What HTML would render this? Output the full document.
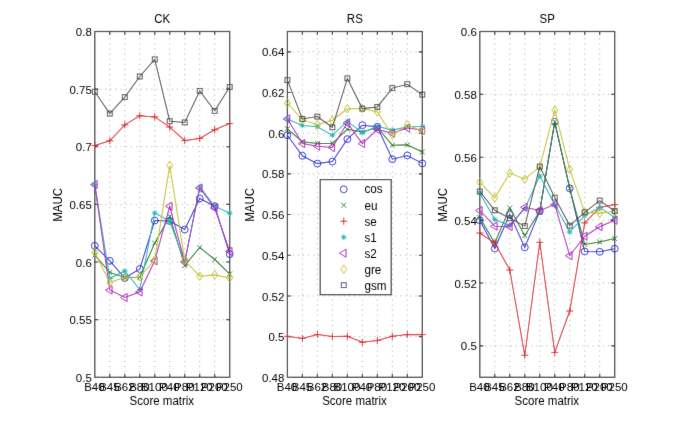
<!DOCTYPE html><html><head><meta charset="utf-8"><style>html,body{margin:0;padding:0;background:#fff;}svg{display:block;}text{font-family:"Liberation Sans", sans-serif;font-size:11.5px;fill:#000;}</style></head><body>
<svg width="685" height="425" viewBox="0 0 685 425">
<defs><filter id="bl" x="0" y="0" width="685" height="425" filterUnits="userSpaceOnUse"><feConvolveMatrix order="3" kernelMatrix="0.00524 0.06192 0.00524 0.06192 0.73137 0.06192 0.00524 0.06192 0.00524" edgeMode="duplicate" preserveAlpha="true"/></filter><filter id="bt" x="0" y="0" width="685" height="425" filterUnits="userSpaceOnUse"><feConvolveMatrix order="3" kernelMatrix="0.00524 0.06192 0.00524 0.06192 0.73137 0.06192 0.00524 0.06192 0.00524" edgeMode="none"/></filter></defs>
<g filter="url(#bl)">
<rect width="685" height="425" fill="#fff"/>
<g><path d="M109.79 31.50V377.30M124.78 31.50V377.30M139.77 31.50V377.30M154.76 31.50V377.30M169.74 31.50V377.30M184.73 31.50V377.30M199.72 31.50V377.30M214.71 31.50V377.30" stroke="#a8a8a8" stroke-width="1" stroke-dasharray="1 4.12" stroke-dashoffset="3.44" fill="none"/><path d="M94.80 319.67H229.70M94.80 262.03H229.70M94.80 204.40H229.70M94.80 146.77H229.70M94.80 89.13H229.70" stroke="#a8a8a8" stroke-width="1" stroke-dasharray="1 4.12" stroke-dashoffset="4.92" fill="none"/><path d="M109.79 377.30v-3.5M109.79 31.50v3.5M124.78 377.30v-3.5M124.78 31.50v3.5M139.77 377.30v-3.5M139.77 31.50v3.5M154.76 377.30v-3.5M154.76 31.50v3.5M169.74 377.30v-3.5M169.74 31.50v3.5M184.73 377.30v-3.5M184.73 31.50v3.5M199.72 377.30v-3.5M199.72 31.50v3.5M214.71 377.30v-3.5M214.71 31.50v3.5M94.80 319.67h3.5M229.70 319.67h-3.5M94.80 262.03h3.5M229.70 262.03h-3.5M94.80 204.40h3.5M229.70 204.40h-3.5M94.80 146.77h3.5M229.70 146.77h-3.5M94.80 89.13h3.5M229.70 89.13h-3.5" stroke="#262626" stroke-width="1.1" fill="none"/><rect x="94.80" y="31.50" width="134.90" height="345.80" fill="none" stroke="#383838" stroke-width="1.25"/><polyline points="94.80,245.80 109.79,260.80 124.78,278.00 139.77,269.00 154.76,220.50 169.74,221.00 184.73,229.50 199.72,198.50 214.71,206.20 229.70,254.10" fill="none" stroke="#2828dc" stroke-width="1.05"/><circle cx="94.80" cy="245.80" r="3.45" fill="none" stroke="#2828dc"/><circle cx="109.79" cy="260.80" r="3.45" fill="none" stroke="#2828dc"/><circle cx="124.78" cy="278.00" r="3.45" fill="none" stroke="#2828dc"/><circle cx="139.77" cy="269.00" r="3.45" fill="none" stroke="#2828dc"/><circle cx="154.76" cy="220.50" r="3.45" fill="none" stroke="#2828dc"/><circle cx="169.74" cy="221.00" r="3.45" fill="none" stroke="#2828dc"/><circle cx="184.73" cy="229.50" r="3.45" fill="none" stroke="#2828dc"/><circle cx="199.72" cy="198.50" r="3.45" fill="none" stroke="#2828dc"/><circle cx="214.71" cy="206.20" r="3.45" fill="none" stroke="#2828dc"/><circle cx="229.70" cy="254.10" r="3.45" fill="none" stroke="#2828dc"/><polyline points="94.80,255.20 109.79,272.40 124.78,277.40 139.77,277.20 154.76,243.00 169.74,216.30 184.73,265.60 199.72,247.40 214.71,259.50 229.70,273.90" fill="none" stroke="#147814" stroke-width="1.05"/><path d="M92.40 252.80L97.20 257.60M92.40 257.60L97.20 252.80" stroke="#147814" fill="none"/><path d="M107.39 270.00L112.19 274.80M107.39 274.80L112.19 270.00" stroke="#147814" fill="none"/><path d="M122.38 275.00L127.18 279.80M122.38 279.80L127.18 275.00" stroke="#147814" fill="none"/><path d="M137.37 274.80L142.17 279.60M137.37 279.60L142.17 274.80" stroke="#147814" fill="none"/><path d="M152.36 240.60L157.16 245.40M152.36 245.40L157.16 240.60" stroke="#147814" fill="none"/><path d="M167.34 213.90L172.14 218.70M167.34 218.70L172.14 213.90" stroke="#147814" fill="none"/><path d="M182.33 263.20L187.13 268.00M182.33 268.00L187.13 263.20" stroke="#147814" fill="none"/><path d="M197.32 245.00L202.12 249.80M197.32 249.80L202.12 245.00" stroke="#147814" fill="none"/><path d="M212.31 257.10L217.11 261.90M212.31 261.90L217.11 257.10" stroke="#147814" fill="none"/><path d="M227.30 271.50L232.10 276.30M227.30 276.30L232.10 271.50" stroke="#147814" fill="none"/><polyline points="94.80,145.50 109.79,140.80 124.78,124.90 139.77,115.70 154.76,116.90 169.74,127.10 184.73,140.60 199.72,138.40 214.71,129.80 229.70,123.60" fill="none" stroke="#dc1e28" stroke-width="1.05"/><path d="M91.30 145.50H98.30M94.80 142.00V149.00" stroke="#dc1e28" fill="none"/><path d="M106.29 140.80H113.29M109.79 137.30V144.30" stroke="#dc1e28" fill="none"/><path d="M121.28 124.90H128.28M124.78 121.40V128.40" stroke="#dc1e28" fill="none"/><path d="M136.27 115.70H143.27M139.77 112.20V119.20" stroke="#dc1e28" fill="none"/><path d="M151.26 116.90H158.26M154.76 113.40V120.40" stroke="#dc1e28" fill="none"/><path d="M166.24 127.10H173.24M169.74 123.60V130.60" stroke="#dc1e28" fill="none"/><path d="M181.23 140.60H188.23M184.73 137.10V144.10" stroke="#dc1e28" fill="none"/><path d="M196.22 138.40H203.22M199.72 134.90V141.90" stroke="#dc1e28" fill="none"/><path d="M211.21 129.80H218.21M214.71 126.30V133.30" stroke="#dc1e28" fill="none"/><path d="M226.20 123.60H233.20M229.70 120.10V127.10" stroke="#dc1e28" fill="none"/><polyline points="94.80,184.60 109.79,278.50 124.78,271.00 139.77,289.50 154.76,213.00 169.74,221.20 184.73,262.00 199.72,186.80 214.71,206.20 229.70,213.20" fill="none" stroke="#14b4b9" stroke-width="1.05"/><path d="M92.00 184.60H97.60M94.80 181.80V187.40M92.80 182.60L96.80 186.60M92.80 186.60L96.80 182.60" stroke="#14b4b9" fill="none"/><path d="M106.99 278.50H112.59M109.79 275.70V281.30M107.79 276.50L111.79 280.50M107.79 280.50L111.79 276.50" stroke="#14b4b9" fill="none"/><path d="M121.98 271.00H127.58M124.78 268.20V273.80M122.78 269.00L126.78 273.00M122.78 273.00L126.78 269.00" stroke="#14b4b9" fill="none"/><path d="M136.97 289.50H142.57M139.77 286.70V292.30M137.77 287.50L141.77 291.50M137.77 291.50L141.77 287.50" stroke="#14b4b9" fill="none"/><path d="M151.96 213.00H157.56M154.76 210.20V215.80M152.76 211.00L156.76 215.00M152.76 215.00L156.76 211.00" stroke="#14b4b9" fill="none"/><path d="M166.94 221.20H172.54M169.74 218.40V224.00M167.74 219.20L171.74 223.20M167.74 223.20L171.74 219.20" stroke="#14b4b9" fill="none"/><path d="M181.93 262.00H187.53M184.73 259.20V264.80M182.73 260.00L186.73 264.00M182.73 264.00L186.73 260.00" stroke="#14b4b9" fill="none"/><path d="M196.92 186.80H202.52M199.72 184.00V189.60M197.72 184.80L201.72 188.80M197.72 188.80L201.72 184.80" stroke="#14b4b9" fill="none"/><path d="M211.91 206.20H217.51M214.71 203.40V209.00M212.71 204.20L216.71 208.20M212.71 208.20L216.71 204.20" stroke="#14b4b9" fill="none"/><path d="M226.90 213.20H232.50M229.70 210.40V216.00M227.70 211.20L231.70 215.20M227.70 215.20L231.70 211.20" stroke="#14b4b9" fill="none"/><polyline points="94.80,184.60 109.79,290.00 124.78,297.50 139.77,292.00 154.76,260.80 169.74,206.30 184.73,262.00 199.72,188.00 214.71,208.00 229.70,251.40" fill="none" stroke="#af1ebe" stroke-width="1.05"/><path d="M90.50 184.60L97.10 180.50L97.10 188.70Z" stroke="#af1ebe" fill="none"/><path d="M105.49 290.00L112.09 285.90L112.09 294.10Z" stroke="#af1ebe" fill="none"/><path d="M120.48 297.50L127.08 293.40L127.08 301.60Z" stroke="#af1ebe" fill="none"/><path d="M135.47 292.00L142.07 287.90L142.07 296.10Z" stroke="#af1ebe" fill="none"/><path d="M150.46 260.80L157.06 256.70L157.06 264.90Z" stroke="#af1ebe" fill="none"/><path d="M165.44 206.30L172.04 202.20L172.04 210.40Z" stroke="#af1ebe" fill="none"/><path d="M180.43 262.00L187.03 257.90L187.03 266.10Z" stroke="#af1ebe" fill="none"/><path d="M195.42 188.00L202.02 183.90L202.02 192.10Z" stroke="#af1ebe" fill="none"/><path d="M210.41 208.00L217.01 203.90L217.01 212.10Z" stroke="#af1ebe" fill="none"/><path d="M225.40 251.40L232.00 247.30L232.00 255.50Z" stroke="#af1ebe" fill="none"/><polyline points="94.80,252.50 109.79,282.50 124.78,277.20 139.77,277.00 154.76,259.80 169.74,165.60 184.73,260.30 199.72,276.20 214.71,274.90 229.70,277.90" fill="none" stroke="#c3c31e" stroke-width="1.05"/><path d="M94.80 248.30L97.80 252.50L94.80 256.70L91.80 252.50Z" stroke="#c3c31e" fill="none"/><path d="M109.79 278.30L112.79 282.50L109.79 286.70L106.79 282.50Z" stroke="#c3c31e" fill="none"/><path d="M124.78 273.00L127.78 277.20L124.78 281.40L121.78 277.20Z" stroke="#c3c31e" fill="none"/><path d="M139.77 272.80L142.77 277.00L139.77 281.20L136.77 277.00Z" stroke="#c3c31e" fill="none"/><path d="M154.76 255.60L157.76 259.80L154.76 264.00L151.76 259.80Z" stroke="#c3c31e" fill="none"/><path d="M169.74 161.40L172.74 165.60L169.74 169.80L166.74 165.60Z" stroke="#c3c31e" fill="none"/><path d="M184.73 256.10L187.73 260.30L184.73 264.50L181.73 260.30Z" stroke="#c3c31e" fill="none"/><path d="M199.72 272.00L202.72 276.20L199.72 280.40L196.72 276.20Z" stroke="#c3c31e" fill="none"/><path d="M214.71 270.70L217.71 274.90L214.71 279.10L211.71 274.90Z" stroke="#c3c31e" fill="none"/><path d="M229.70 273.70L232.70 277.90L229.70 282.10L226.70 277.90Z" stroke="#c3c31e" fill="none"/><polyline points="94.80,91.80 109.79,113.60 124.78,97.10 139.77,76.50 154.76,59.40 169.74,121.20 184.73,122.40 199.72,90.90 214.71,110.90 229.70,87.00" fill="none" stroke="#505050" stroke-width="1.05"/><rect x="92.35" y="89.35" width="4.90" height="4.90" stroke="#505050" fill="none"/><rect x="107.34" y="111.15" width="4.90" height="4.90" stroke="#505050" fill="none"/><rect x="122.33" y="94.65" width="4.90" height="4.90" stroke="#505050" fill="none"/><rect x="137.32" y="74.05" width="4.90" height="4.90" stroke="#505050" fill="none"/><rect x="152.31" y="56.95" width="4.90" height="4.90" stroke="#505050" fill="none"/><rect x="167.29" y="118.75" width="4.90" height="4.90" stroke="#505050" fill="none"/><rect x="182.28" y="119.95" width="4.90" height="4.90" stroke="#505050" fill="none"/><rect x="197.27" y="88.45" width="4.90" height="4.90" stroke="#505050" fill="none"/><rect x="212.26" y="108.45" width="4.90" height="4.90" stroke="#505050" fill="none"/><rect x="227.25" y="84.55" width="4.90" height="4.90" stroke="#505050" fill="none"/></g>
<g><path d="M302.39 31.50V377.30M317.38 31.50V377.30M332.37 31.50V377.30M347.36 31.50V377.30M362.34 31.50V377.30M377.33 31.50V377.30M392.32 31.50V377.30M407.31 31.50V377.30" stroke="#a8a8a8" stroke-width="1" stroke-dasharray="1 4.12" stroke-dashoffset="3.44" fill="none"/><path d="M287.40 336.62H422.30M287.40 295.94H422.30M287.40 255.25H422.30M287.40 214.57H422.30M287.40 173.89H422.30M287.40 133.21H422.30M287.40 92.52H422.30M287.40 51.84H422.30" stroke="#a8a8a8" stroke-width="1" stroke-dasharray="1 4.12" stroke-dashoffset="4.92" fill="none"/><path d="M302.39 377.30v-3.5M302.39 31.50v3.5M317.38 377.30v-3.5M317.38 31.50v3.5M332.37 377.30v-3.5M332.37 31.50v3.5M347.36 377.30v-3.5M347.36 31.50v3.5M362.34 377.30v-3.5M362.34 31.50v3.5M377.33 377.30v-3.5M377.33 31.50v3.5M392.32 377.30v-3.5M392.32 31.50v3.5M407.31 377.30v-3.5M407.31 31.50v3.5M287.40 336.62h3.5M422.30 336.62h-3.5M287.40 295.94h3.5M422.30 295.94h-3.5M287.40 255.25h3.5M422.30 255.25h-3.5M287.40 214.57h3.5M422.30 214.57h-3.5M287.40 173.89h3.5M422.30 173.89h-3.5M287.40 133.21h3.5M422.30 133.21h-3.5M287.40 92.52h3.5M422.30 92.52h-3.5M287.40 51.84h3.5M422.30 51.84h-3.5" stroke="#262626" stroke-width="1.1" fill="none"/><rect x="287.40" y="31.50" width="134.90" height="345.80" fill="none" stroke="#383838" stroke-width="1.25"/><polyline points="287.40,135.20 302.39,155.80 317.38,163.60 332.37,161.60 347.36,139.10 362.34,125.20 377.33,126.80 392.32,159.20 407.31,155.50 422.30,163.40" fill="none" stroke="#2828dc" stroke-width="1.05"/><circle cx="287.40" cy="135.20" r="3.45" fill="none" stroke="#2828dc"/><circle cx="302.39" cy="155.80" r="3.45" fill="none" stroke="#2828dc"/><circle cx="317.38" cy="163.60" r="3.45" fill="none" stroke="#2828dc"/><circle cx="332.37" cy="161.60" r="3.45" fill="none" stroke="#2828dc"/><circle cx="347.36" cy="139.10" r="3.45" fill="none" stroke="#2828dc"/><circle cx="362.34" cy="125.20" r="3.45" fill="none" stroke="#2828dc"/><circle cx="377.33" cy="126.80" r="3.45" fill="none" stroke="#2828dc"/><circle cx="392.32" cy="159.20" r="3.45" fill="none" stroke="#2828dc"/><circle cx="407.31" cy="155.50" r="3.45" fill="none" stroke="#2828dc"/><circle cx="422.30" cy="163.40" r="3.45" fill="none" stroke="#2828dc"/><polyline points="287.40,128.80 302.39,141.70 317.38,143.40 332.37,143.40 347.36,129.20 362.34,132.00 377.33,127.50 392.32,145.20 407.31,144.90 422.30,152.00" fill="none" stroke="#147814" stroke-width="1.05"/><path d="M285.00 126.40L289.80 131.20M285.00 131.20L289.80 126.40" stroke="#147814" fill="none"/><path d="M299.99 139.30L304.79 144.10M299.99 144.10L304.79 139.30" stroke="#147814" fill="none"/><path d="M314.98 141.00L319.78 145.80M314.98 145.80L319.78 141.00" stroke="#147814" fill="none"/><path d="M329.97 141.00L334.77 145.80M329.97 145.80L334.77 141.00" stroke="#147814" fill="none"/><path d="M344.96 126.80L349.76 131.60M344.96 131.60L349.76 126.80" stroke="#147814" fill="none"/><path d="M359.94 129.60L364.74 134.40M359.94 134.40L364.74 129.60" stroke="#147814" fill="none"/><path d="M374.93 125.10L379.73 129.90M374.93 129.90L379.73 125.10" stroke="#147814" fill="none"/><path d="M389.92 142.80L394.72 147.60M389.92 147.60L394.72 142.80" stroke="#147814" fill="none"/><path d="M404.91 142.50L409.71 147.30M404.91 147.30L409.71 142.50" stroke="#147814" fill="none"/><path d="M419.90 149.60L424.70 154.40M419.90 154.40L424.70 149.60" stroke="#147814" fill="none"/><polyline points="287.40,336.30 302.39,338.40 317.38,334.50 332.37,336.50 347.36,336.30 362.34,342.30 377.33,340.50 392.32,336.30 407.31,334.60 422.30,334.60" fill="none" stroke="#dc1e28" stroke-width="1.05"/><path d="M283.90 336.30H290.90M287.40 332.80V339.80" stroke="#dc1e28" fill="none"/><path d="M298.89 338.40H305.89M302.39 334.90V341.90" stroke="#dc1e28" fill="none"/><path d="M313.88 334.50H320.88M317.38 331.00V338.00" stroke="#dc1e28" fill="none"/><path d="M328.87 336.50H335.87M332.37 333.00V340.00" stroke="#dc1e28" fill="none"/><path d="M343.86 336.30H350.86M347.36 332.80V339.80" stroke="#dc1e28" fill="none"/><path d="M358.84 342.30H365.84M362.34 338.80V345.80" stroke="#dc1e28" fill="none"/><path d="M373.83 340.50H380.83M377.33 337.00V344.00" stroke="#dc1e28" fill="none"/><path d="M388.82 336.30H395.82M392.32 332.80V339.80" stroke="#dc1e28" fill="none"/><path d="M403.81 334.60H410.81M407.31 331.10V338.10" stroke="#dc1e28" fill="none"/><path d="M418.80 334.60H425.80M422.30 331.10V338.10" stroke="#dc1e28" fill="none"/><polyline points="287.40,118.90 302.39,125.50 317.38,126.80 332.37,135.20 347.36,121.40 362.34,132.60 377.33,126.20 392.32,130.10 407.31,126.80 422.30,126.60" fill="none" stroke="#14b4b9" stroke-width="1.05"/><path d="M284.60 118.90H290.20M287.40 116.10V121.70M285.40 116.90L289.40 120.90M285.40 120.90L289.40 116.90" stroke="#14b4b9" fill="none"/><path d="M299.59 125.50H305.19M302.39 122.70V128.30M300.39 123.50L304.39 127.50M300.39 127.50L304.39 123.50" stroke="#14b4b9" fill="none"/><path d="M314.58 126.80H320.18M317.38 124.00V129.60M315.38 124.80L319.38 128.80M315.38 128.80L319.38 124.80" stroke="#14b4b9" fill="none"/><path d="M329.57 135.20H335.17M332.37 132.40V138.00M330.37 133.20L334.37 137.20M330.37 137.20L334.37 133.20" stroke="#14b4b9" fill="none"/><path d="M344.56 121.40H350.16M347.36 118.60V124.20M345.36 119.40L349.36 123.40M345.36 123.40L349.36 119.40" stroke="#14b4b9" fill="none"/><path d="M359.54 132.60H365.14M362.34 129.80V135.40M360.34 130.60L364.34 134.60M360.34 134.60L364.34 130.60" stroke="#14b4b9" fill="none"/><path d="M374.53 126.20H380.13M377.33 123.40V129.00M375.33 124.20L379.33 128.20M375.33 128.20L379.33 124.20" stroke="#14b4b9" fill="none"/><path d="M389.52 130.10H395.12M392.32 127.30V132.90M390.32 128.10L394.32 132.10M390.32 132.10L394.32 128.10" stroke="#14b4b9" fill="none"/><path d="M404.51 126.80H410.11M407.31 124.00V129.60M405.31 124.80L409.31 128.80M405.31 128.80L409.31 124.80" stroke="#14b4b9" fill="none"/><path d="M419.50 126.60H425.10M422.30 123.80V129.40M420.30 124.60L424.30 128.60M420.30 128.60L424.30 124.60" stroke="#14b4b9" fill="none"/><polyline points="287.40,118.90 302.39,143.60 317.38,146.20 332.37,147.50 347.36,122.90 362.34,143.60 377.33,129.40 392.32,133.30 407.31,128.10 422.30,130.10" fill="none" stroke="#af1ebe" stroke-width="1.05"/><path d="M283.10 118.90L289.70 114.80L289.70 123.00Z" stroke="#af1ebe" fill="none"/><path d="M298.09 143.60L304.69 139.50L304.69 147.70Z" stroke="#af1ebe" fill="none"/><path d="M313.08 146.20L319.68 142.10L319.68 150.30Z" stroke="#af1ebe" fill="none"/><path d="M328.07 147.50L334.67 143.40L334.67 151.60Z" stroke="#af1ebe" fill="none"/><path d="M343.06 122.90L349.66 118.80L349.66 127.00Z" stroke="#af1ebe" fill="none"/><path d="M358.04 143.60L364.64 139.50L364.64 147.70Z" stroke="#af1ebe" fill="none"/><path d="M373.03 129.40L379.63 125.30L379.63 133.50Z" stroke="#af1ebe" fill="none"/><path d="M388.02 133.30L394.62 129.20L394.62 137.40Z" stroke="#af1ebe" fill="none"/><path d="M403.01 128.10L409.61 124.00L409.61 132.20Z" stroke="#af1ebe" fill="none"/><path d="M418.00 130.10L424.60 126.00L424.60 134.20Z" stroke="#af1ebe" fill="none"/><polyline points="287.40,103.00 302.39,119.80 317.38,124.80 332.37,120.20 347.36,108.80 362.34,108.60 377.33,112.00 392.32,135.20 407.31,124.50 422.30,131.40" fill="none" stroke="#c3c31e" stroke-width="1.05"/><path d="M287.40 98.80L290.40 103.00L287.40 107.20L284.40 103.00Z" stroke="#c3c31e" fill="none"/><path d="M302.39 115.60L305.39 119.80L302.39 124.00L299.39 119.80Z" stroke="#c3c31e" fill="none"/><path d="M317.38 120.60L320.38 124.80L317.38 129.00L314.38 124.80Z" stroke="#c3c31e" fill="none"/><path d="M332.37 116.00L335.37 120.20L332.37 124.40L329.37 120.20Z" stroke="#c3c31e" fill="none"/><path d="M347.36 104.60L350.36 108.80L347.36 113.00L344.36 108.80Z" stroke="#c3c31e" fill="none"/><path d="M362.34 104.40L365.34 108.60L362.34 112.80L359.34 108.60Z" stroke="#c3c31e" fill="none"/><path d="M377.33 107.80L380.33 112.00L377.33 116.20L374.33 112.00Z" stroke="#c3c31e" fill="none"/><path d="M392.32 131.00L395.32 135.20L392.32 139.40L389.32 135.20Z" stroke="#c3c31e" fill="none"/><path d="M407.31 120.30L410.31 124.50L407.31 128.70L404.31 124.50Z" stroke="#c3c31e" fill="none"/><path d="M422.30 127.20L425.30 131.40L422.30 135.60L419.30 131.40Z" stroke="#c3c31e" fill="none"/><polyline points="287.40,80.10 302.39,119.00 317.38,116.60 332.37,127.30 347.36,78.40 362.34,108.60 377.33,106.90 392.32,88.10 407.31,84.20 422.30,94.60" fill="none" stroke="#505050" stroke-width="1.05"/><rect x="284.95" y="77.65" width="4.90" height="4.90" stroke="#505050" fill="none"/><rect x="299.94" y="116.55" width="4.90" height="4.90" stroke="#505050" fill="none"/><rect x="314.93" y="114.15" width="4.90" height="4.90" stroke="#505050" fill="none"/><rect x="329.92" y="124.85" width="4.90" height="4.90" stroke="#505050" fill="none"/><rect x="344.91" y="75.95" width="4.90" height="4.90" stroke="#505050" fill="none"/><rect x="359.89" y="106.15" width="4.90" height="4.90" stroke="#505050" fill="none"/><rect x="374.88" y="104.45" width="4.90" height="4.90" stroke="#505050" fill="none"/><rect x="389.87" y="85.65" width="4.90" height="4.90" stroke="#505050" fill="none"/><rect x="404.86" y="81.75" width="4.90" height="4.90" stroke="#505050" fill="none"/><rect x="419.85" y="92.15" width="4.90" height="4.90" stroke="#505050" fill="none"/></g>
<g><path d="M494.79 31.50V377.30M509.78 31.50V377.30M524.77 31.50V377.30M539.76 31.50V377.30M554.74 31.50V377.30M569.73 31.50V377.30M584.72 31.50V377.30M599.71 31.50V377.30" stroke="#a8a8a8" stroke-width="1" stroke-dasharray="1 4.12" stroke-dashoffset="3.44" fill="none"/><path d="M479.80 345.86H614.70M479.80 282.99H614.70M479.80 220.12H614.70M479.80 157.25H614.70M479.80 94.37H614.70" stroke="#a8a8a8" stroke-width="1" stroke-dasharray="1 4.12" stroke-dashoffset="4.92" fill="none"/><path d="M494.79 377.30v-3.5M494.79 31.50v3.5M509.78 377.30v-3.5M509.78 31.50v3.5M524.77 377.30v-3.5M524.77 31.50v3.5M539.76 377.30v-3.5M539.76 31.50v3.5M554.74 377.30v-3.5M554.74 31.50v3.5M569.73 377.30v-3.5M569.73 31.50v3.5M584.72 377.30v-3.5M584.72 31.50v3.5M599.71 377.30v-3.5M599.71 31.50v3.5M479.80 345.86h3.5M614.70 345.86h-3.5M479.80 282.99h3.5M614.70 282.99h-3.5M479.80 220.12h3.5M614.70 220.12h-3.5M479.80 157.25h3.5M614.70 157.25h-3.5M479.80 94.37h3.5M614.70 94.37h-3.5" stroke="#262626" stroke-width="1.1" fill="none"/><rect x="479.80" y="31.50" width="134.90" height="345.80" fill="none" stroke="#383838" stroke-width="1.25"/><polyline points="479.80,220.30 494.79,248.50 509.78,214.40 524.77,247.40 539.76,211.20 554.74,121.80 569.73,188.40 584.72,251.50 599.71,251.80 614.70,248.70" fill="none" stroke="#2828dc" stroke-width="1.05"/><circle cx="479.80" cy="220.30" r="3.45" fill="none" stroke="#2828dc"/><circle cx="494.79" cy="248.50" r="3.45" fill="none" stroke="#2828dc"/><circle cx="509.78" cy="214.40" r="3.45" fill="none" stroke="#2828dc"/><circle cx="524.77" cy="247.40" r="3.45" fill="none" stroke="#2828dc"/><circle cx="539.76" cy="211.20" r="3.45" fill="none" stroke="#2828dc"/><circle cx="554.74" cy="121.80" r="3.45" fill="none" stroke="#2828dc"/><circle cx="569.73" cy="188.40" r="3.45" fill="none" stroke="#2828dc"/><circle cx="584.72" cy="251.50" r="3.45" fill="none" stroke="#2828dc"/><circle cx="599.71" cy="251.80" r="3.45" fill="none" stroke="#2828dc"/><circle cx="614.70" cy="248.70" r="3.45" fill="none" stroke="#2828dc"/><polyline points="479.80,217.50 494.79,243.00 509.78,207.90 524.77,235.70 539.76,211.00 554.74,121.80 569.73,188.40 584.72,244.40 599.71,242.00 614.70,238.60" fill="none" stroke="#147814" stroke-width="1.05"/><path d="M477.40 215.10L482.20 219.90M477.40 219.90L482.20 215.10" stroke="#147814" fill="none"/><path d="M492.39 240.60L497.19 245.40M492.39 245.40L497.19 240.60" stroke="#147814" fill="none"/><path d="M507.38 205.50L512.18 210.30M507.38 210.30L512.18 205.50" stroke="#147814" fill="none"/><path d="M522.37 233.30L527.17 238.10M522.37 238.10L527.17 233.30" stroke="#147814" fill="none"/><path d="M537.36 208.60L542.16 213.40M537.36 213.40L542.16 208.60" stroke="#147814" fill="none"/><path d="M552.34 119.40L557.14 124.20M552.34 124.20L557.14 119.40" stroke="#147814" fill="none"/><path d="M567.33 186.00L572.13 190.80M567.33 190.80L572.13 186.00" stroke="#147814" fill="none"/><path d="M582.32 242.00L587.12 246.80M582.32 246.80L587.12 242.00" stroke="#147814" fill="none"/><path d="M597.31 239.60L602.11 244.40M597.31 244.40L602.11 239.60" stroke="#147814" fill="none"/><path d="M612.30 236.20L617.10 241.00M612.30 241.00L617.10 236.20" stroke="#147814" fill="none"/><polyline points="479.80,233.00 494.79,243.00 509.78,270.00 524.77,355.30 539.76,242.30 554.74,352.40 569.73,311.00 584.72,222.90 599.71,207.50 614.70,204.60" fill="none" stroke="#dc1e28" stroke-width="1.05"/><path d="M476.30 233.00H483.30M479.80 229.50V236.50" stroke="#dc1e28" fill="none"/><path d="M491.29 243.00H498.29M494.79 239.50V246.50" stroke="#dc1e28" fill="none"/><path d="M506.28 270.00H513.28M509.78 266.50V273.50" stroke="#dc1e28" fill="none"/><path d="M521.27 355.30H528.27M524.77 351.80V358.80" stroke="#dc1e28" fill="none"/><path d="M536.26 242.30H543.26M539.76 238.80V245.80" stroke="#dc1e28" fill="none"/><path d="M551.24 352.40H558.24M554.74 348.90V355.90" stroke="#dc1e28" fill="none"/><path d="M566.23 311.00H573.23M569.73 307.50V314.50" stroke="#dc1e28" fill="none"/><path d="M581.22 222.90H588.22M584.72 219.40V226.40" stroke="#dc1e28" fill="none"/><path d="M596.21 207.50H603.21M599.71 204.00V211.00" stroke="#dc1e28" fill="none"/><path d="M611.20 204.60H618.20M614.70 201.10V208.10" stroke="#dc1e28" fill="none"/><polyline points="479.80,193.00 494.79,219.50 509.78,225.50 524.77,208.60 539.76,176.00 554.74,204.60 569.73,232.00 584.72,215.70 599.71,207.40 614.70,217.60" fill="none" stroke="#14b4b9" stroke-width="1.05"/><path d="M477.00 193.00H482.60M479.80 190.20V195.80M477.80 191.00L481.80 195.00M477.80 195.00L481.80 191.00" stroke="#14b4b9" fill="none"/><path d="M491.99 219.50H497.59M494.79 216.70V222.30M492.79 217.50L496.79 221.50M492.79 221.50L496.79 217.50" stroke="#14b4b9" fill="none"/><path d="M506.98 225.50H512.58M509.78 222.70V228.30M507.78 223.50L511.78 227.50M507.78 227.50L511.78 223.50" stroke="#14b4b9" fill="none"/><path d="M521.97 208.60H527.57M524.77 205.80V211.40M522.77 206.60L526.77 210.60M522.77 210.60L526.77 206.60" stroke="#14b4b9" fill="none"/><path d="M536.96 176.00H542.56M539.76 173.20V178.80M537.76 174.00L541.76 178.00M537.76 178.00L541.76 174.00" stroke="#14b4b9" fill="none"/><path d="M551.94 204.60H557.54M554.74 201.80V207.40M552.74 202.60L556.74 206.60M552.74 206.60L556.74 202.60" stroke="#14b4b9" fill="none"/><path d="M566.93 232.00H572.53M569.73 229.20V234.80M567.73 230.00L571.73 234.00M567.73 234.00L571.73 230.00" stroke="#14b4b9" fill="none"/><path d="M581.92 215.70H587.52M584.72 212.90V218.50M582.72 213.70L586.72 217.70M582.72 217.70L586.72 213.70" stroke="#14b4b9" fill="none"/><path d="M596.91 207.40H602.51M599.71 204.60V210.20M597.71 205.40L601.71 209.40M597.71 209.40L601.71 205.40" stroke="#14b4b9" fill="none"/><path d="M611.90 217.60H617.50M614.70 214.80V220.40M612.70 215.60L616.70 219.60M612.70 219.60L616.70 215.60" stroke="#14b4b9" fill="none"/><polyline points="479.80,210.50 494.79,226.20 509.78,226.70 524.77,207.30 539.76,210.50 554.74,204.60 569.73,255.70 584.72,236.20 599.71,226.80 614.70,220.20" fill="none" stroke="#af1ebe" stroke-width="1.05"/><path d="M475.50 210.50L482.10 206.40L482.10 214.60Z" stroke="#af1ebe" fill="none"/><path d="M490.49 226.20L497.09 222.10L497.09 230.30Z" stroke="#af1ebe" fill="none"/><path d="M505.48 226.70L512.08 222.60L512.08 230.80Z" stroke="#af1ebe" fill="none"/><path d="M520.47 207.30L527.07 203.20L527.07 211.40Z" stroke="#af1ebe" fill="none"/><path d="M535.46 210.50L542.06 206.40L542.06 214.60Z" stroke="#af1ebe" fill="none"/><path d="M550.44 204.60L557.04 200.50L557.04 208.70Z" stroke="#af1ebe" fill="none"/><path d="M565.43 255.70L572.03 251.60L572.03 259.80Z" stroke="#af1ebe" fill="none"/><path d="M580.42 236.20L587.02 232.10L587.02 240.30Z" stroke="#af1ebe" fill="none"/><path d="M595.41 226.80L602.01 222.70L602.01 230.90Z" stroke="#af1ebe" fill="none"/><path d="M610.40 220.20L617.00 216.10L617.00 224.30Z" stroke="#af1ebe" fill="none"/><polyline points="479.80,182.30 494.79,197.80 509.78,173.10 524.77,179.20 539.76,166.80 554.74,110.20 569.73,169.40 584.72,212.30 599.71,213.10 614.70,211.50" fill="none" stroke="#c3c31e" stroke-width="1.05"/><path d="M479.80 178.10L482.80 182.30L479.80 186.50L476.80 182.30Z" stroke="#c3c31e" fill="none"/><path d="M494.79 193.60L497.79 197.80L494.79 202.00L491.79 197.80Z" stroke="#c3c31e" fill="none"/><path d="M509.78 168.90L512.78 173.10L509.78 177.30L506.78 173.10Z" stroke="#c3c31e" fill="none"/><path d="M524.77 175.00L527.77 179.20L524.77 183.40L521.77 179.20Z" stroke="#c3c31e" fill="none"/><path d="M539.76 162.60L542.76 166.80L539.76 171.00L536.76 166.80Z" stroke="#c3c31e" fill="none"/><path d="M554.74 106.00L557.74 110.20L554.74 114.40L551.74 110.20Z" stroke="#c3c31e" fill="none"/><path d="M569.73 165.20L572.73 169.40L569.73 173.60L566.73 169.40Z" stroke="#c3c31e" fill="none"/><path d="M584.72 208.10L587.72 212.30L584.72 216.50L581.72 212.30Z" stroke="#c3c31e" fill="none"/><path d="M599.71 208.90L602.71 213.10L599.71 217.30L596.71 213.10Z" stroke="#c3c31e" fill="none"/><path d="M614.70 207.30L617.70 211.50L614.70 215.70L611.70 211.50Z" stroke="#c3c31e" fill="none"/><polyline points="479.80,191.50 494.79,210.30 509.78,218.30 524.77,226.10 539.76,166.60 554.74,197.60 569.73,225.60 584.72,212.30 599.71,200.60 614.70,211.00" fill="none" stroke="#505050" stroke-width="1.05"/><rect x="477.35" y="189.05" width="4.90" height="4.90" stroke="#505050" fill="none"/><rect x="492.34" y="207.85" width="4.90" height="4.90" stroke="#505050" fill="none"/><rect x="507.33" y="215.85" width="4.90" height="4.90" stroke="#505050" fill="none"/><rect x="522.32" y="223.65" width="4.90" height="4.90" stroke="#505050" fill="none"/><rect x="537.31" y="164.15" width="4.90" height="4.90" stroke="#505050" fill="none"/><rect x="552.29" y="195.15" width="4.90" height="4.90" stroke="#505050" fill="none"/><rect x="567.28" y="223.15" width="4.90" height="4.90" stroke="#505050" fill="none"/><rect x="582.27" y="209.85" width="4.90" height="4.90" stroke="#505050" fill="none"/><rect x="597.26" y="198.15" width="4.90" height="4.90" stroke="#505050" fill="none"/><rect x="612.25" y="208.55" width="4.90" height="4.90" stroke="#505050" fill="none"/></g>
<g><rect x="320.2" y="179.6" width="71.00" height="115.10" fill="#fff" stroke="#383838" stroke-width="1.2"/><circle cx="343.75" cy="189.30" r="3.45" fill="none" stroke="#2828dc"/><path d="M341.35 202.87L346.15 207.67M341.35 207.67L346.15 202.87" stroke="#147814" fill="none"/><path d="M340.25 221.24H347.25M343.75 217.74V224.74" stroke="#dc1e28" fill="none"/><path d="M340.95 237.21H346.55M343.75 234.41V240.01M341.75 235.21L345.75 239.21M341.75 239.21L345.75 235.21" stroke="#14b4b9" fill="none"/><path d="M339.45 253.18L346.05 249.08L346.05 257.28Z" stroke="#af1ebe" fill="none"/><path d="M343.75 264.95L346.75 269.15L343.75 273.35L340.75 269.15Z" stroke="#c3c31e" fill="none"/><rect x="341.30" y="282.67" width="4.90" height="4.90" stroke="#505050" fill="none"/></g>
</g>
<g filter="url(#bt)"><rect width="685" height="425" fill="#fff" fill-opacity="0"/><text transform="translate(91.80,381.90) scale(0.979,1)" style="font-size:11.75px" text-anchor="end">0.5</text><text transform="translate(91.80,324.27) scale(0.979,1)" style="font-size:11.75px" text-anchor="end">0.55</text><text transform="translate(91.80,266.63) scale(0.979,1)" style="font-size:11.75px" text-anchor="end">0.6</text><text transform="translate(91.80,209.00) scale(0.979,1)" style="font-size:11.75px" text-anchor="end">0.65</text><text transform="translate(91.80,151.37) scale(0.979,1)" style="font-size:11.75px" text-anchor="end">0.7</text><text transform="translate(91.80,93.73) scale(0.979,1)" style="font-size:11.75px" text-anchor="end">0.75</text><text transform="translate(91.80,36.10) scale(0.979,1)" style="font-size:11.75px" text-anchor="end">0.8</text><text transform="translate(94.40,391.10) scale(1.000,1)" style="font-size:11.5px" text-anchor="middle">B40</text><text transform="translate(109.39,391.10) scale(1.000,1)" style="font-size:11.5px" text-anchor="middle">B45</text><text transform="translate(124.38,391.10) scale(1.000,1)" style="font-size:11.5px" text-anchor="middle">B62</text><text transform="translate(139.37,391.10) scale(1.000,1)" style="font-size:11.5px" text-anchor="middle">B80</text><text transform="translate(154.36,391.10) scale(1.000,1)" style="font-size:11.5px" text-anchor="middle">B100</text><text transform="translate(169.34,391.10) scale(1.000,1)" style="font-size:11.5px" text-anchor="middle">P40</text><text transform="translate(184.33,391.10) scale(1.000,1)" style="font-size:11.5px" text-anchor="middle">P80</text><text transform="translate(199.32,391.10) scale(1.000,1)" style="font-size:11.5px" text-anchor="middle">P120</text><text transform="translate(214.31,391.10) scale(1.000,1)" style="font-size:11.5px" text-anchor="middle">P200</text><text transform="translate(229.30,391.10) scale(1.000,1)" style="font-size:11.5px" text-anchor="middle">P250</text><text transform="translate(162.25,22.60) scale(0.913,1)" style="font-size:12.6px" text-anchor="middle">CK</text><text transform="translate(161.85,404.50) scale(0.958,1)" style="font-size:12.0px" text-anchor="middle">Score matrix</text><text transform="translate(61.50,204.90) rotate(-90) scale(0.958,1)" style="font-size:12.0px" text-anchor="middle">MAUC</text><text transform="translate(284.40,381.90) scale(0.979,1)" style="font-size:11.75px" text-anchor="end">0.48</text><text transform="translate(284.40,341.22) scale(0.979,1)" style="font-size:11.75px" text-anchor="end">0.5</text><text transform="translate(284.40,300.54) scale(0.979,1)" style="font-size:11.75px" text-anchor="end">0.52</text><text transform="translate(284.40,259.85) scale(0.979,1)" style="font-size:11.75px" text-anchor="end">0.54</text><text transform="translate(284.40,219.17) scale(0.979,1)" style="font-size:11.75px" text-anchor="end">0.56</text><text transform="translate(284.40,178.49) scale(0.979,1)" style="font-size:11.75px" text-anchor="end">0.58</text><text transform="translate(284.40,137.81) scale(0.979,1)" style="font-size:11.75px" text-anchor="end">0.6</text><text transform="translate(284.40,97.12) scale(0.979,1)" style="font-size:11.75px" text-anchor="end">0.62</text><text transform="translate(284.40,56.44) scale(0.979,1)" style="font-size:11.75px" text-anchor="end">0.64</text><text transform="translate(287.00,391.10) scale(1.000,1)" style="font-size:11.5px" text-anchor="middle">B40</text><text transform="translate(301.99,391.10) scale(1.000,1)" style="font-size:11.5px" text-anchor="middle">B45</text><text transform="translate(316.98,391.10) scale(1.000,1)" style="font-size:11.5px" text-anchor="middle">B62</text><text transform="translate(331.97,391.10) scale(1.000,1)" style="font-size:11.5px" text-anchor="middle">B80</text><text transform="translate(346.96,391.10) scale(1.000,1)" style="font-size:11.5px" text-anchor="middle">B100</text><text transform="translate(361.94,391.10) scale(1.000,1)" style="font-size:11.5px" text-anchor="middle">P40</text><text transform="translate(376.93,391.10) scale(1.000,1)" style="font-size:11.5px" text-anchor="middle">P80</text><text transform="translate(391.92,391.10) scale(1.000,1)" style="font-size:11.5px" text-anchor="middle">P120</text><text transform="translate(406.91,391.10) scale(1.000,1)" style="font-size:11.5px" text-anchor="middle">P200</text><text transform="translate(421.90,391.10) scale(1.000,1)" style="font-size:11.5px" text-anchor="middle">P250</text><text transform="translate(354.85,22.60) scale(0.913,1)" style="font-size:12.6px" text-anchor="middle">RS</text><text transform="translate(354.45,404.50) scale(0.958,1)" style="font-size:12.0px" text-anchor="middle">Score matrix</text><text transform="translate(254.10,204.90) rotate(-90) scale(0.958,1)" style="font-size:12.0px" text-anchor="middle">MAUC</text><text transform="translate(476.80,350.46) scale(0.979,1)" style="font-size:11.75px" text-anchor="end">0.5</text><text transform="translate(476.80,287.59) scale(0.979,1)" style="font-size:11.75px" text-anchor="end">0.52</text><text transform="translate(476.80,224.72) scale(0.979,1)" style="font-size:11.75px" text-anchor="end">0.54</text><text transform="translate(476.80,161.85) scale(0.979,1)" style="font-size:11.75px" text-anchor="end">0.56</text><text transform="translate(476.80,98.97) scale(0.979,1)" style="font-size:11.75px" text-anchor="end">0.58</text><text transform="translate(476.80,36.10) scale(0.979,1)" style="font-size:11.75px" text-anchor="end">0.6</text><text transform="translate(479.40,391.10) scale(1.000,1)" style="font-size:11.5px" text-anchor="middle">B40</text><text transform="translate(494.39,391.10) scale(1.000,1)" style="font-size:11.5px" text-anchor="middle">B45</text><text transform="translate(509.38,391.10) scale(1.000,1)" style="font-size:11.5px" text-anchor="middle">B62</text><text transform="translate(524.37,391.10) scale(1.000,1)" style="font-size:11.5px" text-anchor="middle">B80</text><text transform="translate(539.36,391.10) scale(1.000,1)" style="font-size:11.5px" text-anchor="middle">B100</text><text transform="translate(554.34,391.10) scale(1.000,1)" style="font-size:11.5px" text-anchor="middle">P40</text><text transform="translate(569.33,391.10) scale(1.000,1)" style="font-size:11.5px" text-anchor="middle">P80</text><text transform="translate(584.32,391.10) scale(1.000,1)" style="font-size:11.5px" text-anchor="middle">P120</text><text transform="translate(599.31,391.10) scale(1.000,1)" style="font-size:11.5px" text-anchor="middle">P200</text><text transform="translate(614.30,391.10) scale(1.000,1)" style="font-size:11.5px" text-anchor="middle">P250</text><text transform="translate(547.25,22.60) scale(0.913,1)" style="font-size:12.6px" text-anchor="middle">SP</text><text transform="translate(546.85,404.50) scale(0.958,1)" style="font-size:12.0px" text-anchor="middle">Score matrix</text><text transform="translate(446.50,204.90) rotate(-90) scale(0.958,1)" style="font-size:12.0px" text-anchor="middle">MAUC</text><text transform="translate(364.40,193.40) scale(0.975,1)" style="font-size:12.0px">cos</text><text transform="translate(364.40,209.50) scale(0.975,1)" style="font-size:12.0px">eu</text><text transform="translate(364.40,225.60) scale(0.975,1)" style="font-size:12.0px">se</text><text transform="translate(364.40,241.70) scale(0.975,1)" style="font-size:12.0px">s1</text><text transform="translate(364.40,257.80) scale(0.975,1)" style="font-size:12.0px">s2</text><text transform="translate(364.40,273.90) scale(0.975,1)" style="font-size:12.0px">gre</text><text transform="translate(364.40,290.00) scale(0.975,1)" style="font-size:12.0px">gsm</text></g>
</svg></body></html>
